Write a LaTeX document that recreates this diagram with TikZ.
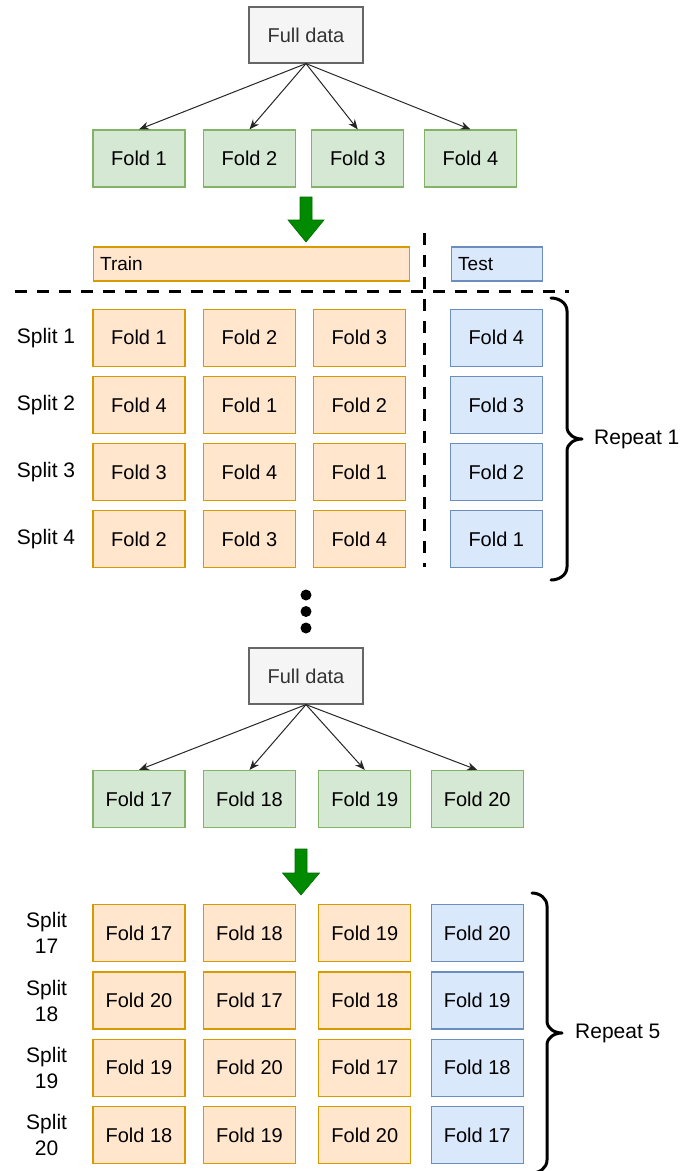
\documentclass[tikz,border=0pt]{standalone}
\usepackage{fontspec}
\setmainfont{Liberation Sans}
\usetikzlibrary{arrows.meta}
\definecolor{gfill}{HTML}{D5E8D4}\definecolor{gdraw}{HTML}{82B366}
\definecolor{ofill}{HTML}{FFE6CC}\definecolor{odraw}{HTML}{D79B00}
\definecolor{bfill}{HTML}{DAE8FC}\definecolor{bdraw}{HTML}{6C8EBF}
\definecolor{kfill}{HTML}{F5F5F5}\definecolor{kdraw}{HTML}{666666}\definecolor{ktext}{HTML}{333333}
\definecolor{arrg}{HTML}{008A00}\definecolor{arrgd}{HTML}{006B00}
\tikzset{
  box/.style={draw, line width=1.2pt, minimum width=92pt, minimum height=57pt, inner sep=0pt, font=\fontsize{20}{24}\selectfont},
  gbox/.style={box, fill=gfill, draw=gdraw},
  obox/.style={box, fill=ofill, draw=odraw},
  bbox/.style={box, fill=bfill, draw=bdraw},
  fulldata/.style={box, fill=kfill, draw=kdraw, text=ktext, minimum width=114pt, minimum height=56pt},
  bar/.style={draw, line width=1.2pt, minimum height=34pt, inner ysep=0pt, align=left, font=\fontsize{19}{23}\selectfont},
  lbl/.style={font=\fontsize{21}{26}\selectfont, align=center, inner sep=0pt},
  link/.style={-{Stealth[length=10pt,width=8pt]}, line width=1pt, draw=black!85},
  sep/.style={dash pattern=on 12pt off 10pt, line width=3pt},
  bracestyle/.style={line width=3pt, line cap=round, line join=round},
  greenarrow/.style={fill=arrg, draw=arrgd, line width=0.6pt}
}
\begin{document}
\begin{tikzpicture}[x=1pt,y=-1pt]
\useasboundingbox (0,0) rectangle (683,1171);

% ---------- Repeat 1 ----------
\node[fulldata] (fd1) at (306,35) {Full data};
\node[gbox] (f1) at (139,158.5) {Fold 1};
\node[gbox] (f2) at (249.5,158.5) {Fold 2};
\node[gbox] (f3) at (357.8,158.5) {Fold 3};
\node[gbox] (f4) at (470.5,158.5) {Fold 4};
\foreach \i in {1,2,3,4} \draw[link] (fd1.south) -- (f\i.north);

\fill[greenarrow] (300,197) -- (312,197) -- (312,220) -- (324,220) -- (306,242) -- (288,220) -- (300,220) -- cycle;

\node[bar, fill=ofill, draw=odraw, minimum width=316pt, text width=302pt, inner xsep=7pt] (train) at (251.2,264) {Train};
\node[bar, fill=bfill, draw=bdraw, minimum width=91pt, text width=78pt, inner xsep=6.5pt] (test) at (497.2,264) {Test};

\coordinate (vtop) at (424.5,233);
\coordinate (vbot) at (424.5,567);
\coordinate (hleft) at (15,291);
\coordinate (hright) at (569,291);
\draw[sep] (vtop) -- (vbot);
\draw[sep] (hleft) -- (hright);

\foreach \r/\y/\a/\b/\c/\d in {1/337.7/1/2/3/4, 2/405/4/1/2/3, 3/472.3/3/4/1/2, 4/539.2/2/3/4/1}{
  \node[lbl] (sa\r) at (46,\y) {Split \r};
  \node[obox] (ra\r x1) at (139,\y) {Fold \a};
  \node[obox] (ra\r x2) at (249.5,\y) {Fold \b};
  \node[obox] (ra\r x3) at (359.3,\y) {Fold \c};
  \node[bbox] (ra\r x4) at (496.3,\y) {Fold \d};
}

\draw[bracestyle] (551,298) to[out=0,in=90] (567,311) -- (567,427) to[out=-90,in=180] (582,439) to[out=180,in=90] (567,451) -- (567,567) to[out=-90,in=0] (551,580);
\node[lbl, anchor=west] (rep1) at (594,439) {Repeat 1};

% ---------- dots ----------
\fill (306,595) circle (5.5pt);
\fill (306,611.5) circle (5.5pt);
\fill (306,628) circle (5.5pt);

% ---------- Repeat 5 ----------
\node[fulldata] (fd5) at (306,676) {Full data};
\node[gbox] (g17) at (139,799) {Fold 17};
\node[gbox] (g18) at (249.5,799) {Fold 18};
\node[gbox] (g19) at (364.8,799) {Fold 19};
\node[gbox] (g20) at (477.2,799) {Fold 20};
\foreach \i in {17,18,19,20} \draw[link] (fd5.south) -- (g\i.north);

\fill[greenarrow] (295,849) -- (307,849) -- (307,873) -- (319.5,873) -- (301,895) -- (282.5,873) -- (295,873) -- cycle;

\foreach \r/\y/\a/\b/\c/\d in {17/933.3/17/18/19/20, 18/1000.5/20/17/18/19, 19/1067.8/19/20/17/18, 20/1135/18/19/20/17}{
  \node[lbl] (sb\r) at (46.6,\y) {Split\\\r};
  \node[obox] (rb\r x1) at (139,\y) {Fold \a};
  \node[obox] (rb\r x2) at (249.5,\y) {Fold \b};
  \node[obox] (rb\r x3) at (364.8,\y) {Fold \c};
  \node[bbox] (rb\r x4) at (477.2,\y) {Fold \d};
}

\draw[bracestyle] (532,893) to[out=0,in=90] (547,906) -- (547,1021) to[out=-90,in=180] (562,1033) to[out=180,in=90] (547,1045) -- (547,1160) to[out=-90,in=0] (532,1173);
\node[lbl, anchor=west] (rep5) at (575,1033) {Repeat 5};
\end{tikzpicture}
\end{document}
